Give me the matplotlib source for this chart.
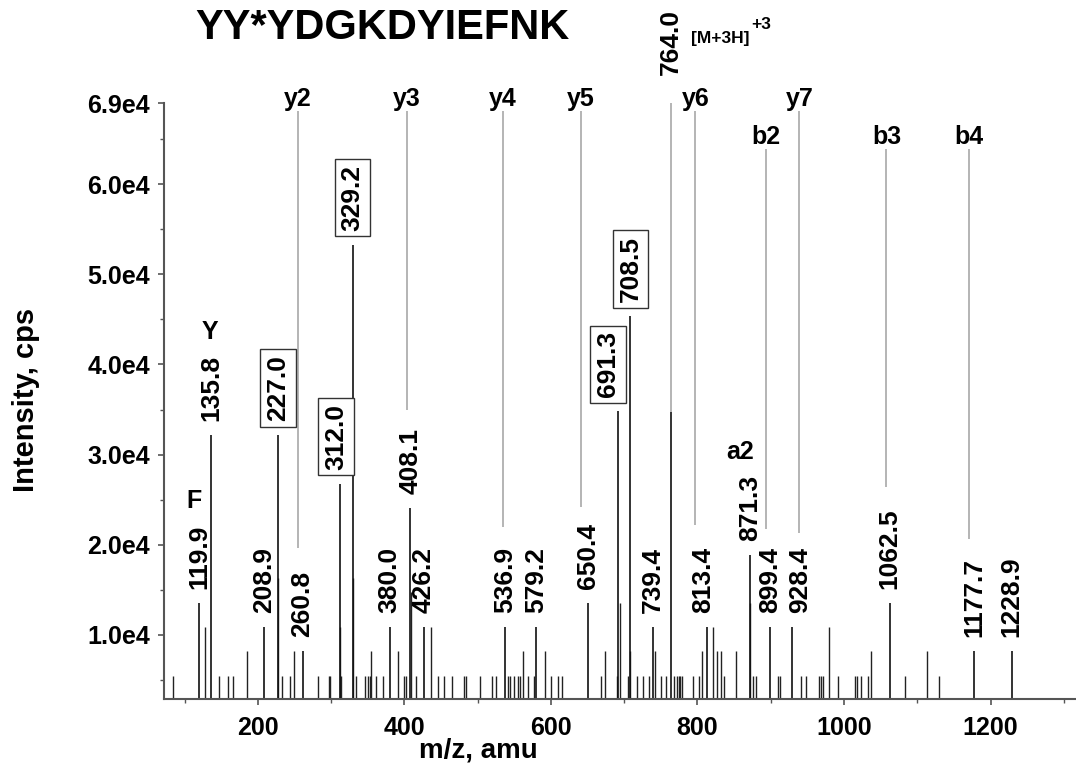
import matplotlib
matplotlib.use('Agg')
import matplotlib.pyplot as plt
from matplotlib.ticker import FixedLocator, MultipleLocator

plt.rcParams['font.family'] = ['Liberation Sans', 'DejaVu Sans']
plt.rcParams['font.weight'] = 'bold'

# unlabeled peaks (m/z, intensity)
peak_mz = [83.5, 128, 146.3, 159, 166.3, 185.4, 227.5, 232.8, 243.7, 249.6,
           282.3, 296.5, 298.7, 311.3, 313.3, 330.0, 333.8, 345.6, 350.6, 352.9,
           354.7, 361, 371, 390.7, 399.7, 401.6, 408.6, 415.7, 435.7, 445.7,
           453.9, 464.4, 481.2, 484, 503, 519, 525, 542, 544.6, 550,
           555, 557.7, 562.2, 569, 576.8, 591.3, 599.5, 609, 615, 668.6,
           673.3, 689.5, 694.2, 705.6, 708.0, 717, 725, 733.8, 741.5, 749.7,
           756.5, 768, 772.4, 774.3, 776, 778.4, 794.3, 802.5, 806.2, 820.8,
           826.2, 831.7, 836.7, 852.2, 871.0, 876.3, 880, 910.4, 913.2, 941.5,
           948.8, 966, 969.2, 971.5, 980, 992, 1015, 1018.2, 1023.2, 1033.2,
           1037, 1083.3, 1112.9, 1130]
peak_int = [5.5e3, 1.09e4, 5.5e3, 5.5e3, 5.5e3, 8.2e3, 1.63e4, 5.5e3, 5.5e3, 8.2e3,
            5.5e3, 5.5e3, 5.5e3, 1.09e4, 5.5e3, 1.63e4, 5.5e3, 5.5e3, 5.5e3, 5.5e3,
            8.2e3, 5.5e3, 5.5e3, 8.2e3, 5.5e3, 5.5e3, 1.48e4, 5.5e3, 1.09e4, 5.5e3,
            5.5e3, 5.5e3, 5.5e3, 5.5e3, 5.5e3, 5.5e3, 5.5e3, 5.5e3, 5.5e3, 5.5e3,
            5.5e3, 5.5e3, 8.2e3, 5.5e3, 5.5e3, 8.2e3, 5.5e3, 5.5e3, 5.5e3, 5.5e3,
            8.2e3, 5.5e3, 1.36e4, 5.5e3, 8.2e3, 5.5e3, 5.5e3, 5.5e3, 8.2e3, 5.5e3,
            5.5e3, 5.5e3, 5.5e3, 5.5e3, 5.5e3, 5.5e3, 5.5e3, 5.5e3, 8.2e3, 1.09e4,
            8.2e3, 8.2e3, 5.5e3, 8.2e3, 1.36e4, 5.5e3, 5.5e3, 5.5e3, 5.5e3, 5.5e3,
            5.5e3, 5.5e3, 5.5e3, 5.5e3, 1.09e4, 5.5e3, 5.5e3, 5.5e3, 5.5e3, 5.5e3,
            8.2e3, 5.5e3, 8.2e3, 5.5e3]

# labeled peaks
label_mz = [119.9, 135.8, 208.9, 227.0, 260.8, 312.0, 329.2, 380.0, 408.1, 426.2,
            536.9, 579.2, 650.4, 691.3, 708.5, 739.4, 813.4, 871.3, 899.4, 928.4,
            1062.5, 1177.7, 1228.9]
label_int = [1.36e4, 3.22e4, 1.09e4, 3.22e4, 8.2e3, 2.68e4, 5.33e4, 1.09e4, 2.41e4, 1.09e4,
             1.09e4, 1.09e4, 1.36e4, 3.48e4, 4.54e4, 1.09e4, 1.09e4, 1.89e4, 1.09e4, 1.09e4,
             1.36e4, 8.2e3, 8.2e3]
label_txt = ['119.9', '135.8', '208.9', '227.0', '260.8', '312.0', '329.2', '380.0', '408.1', '426.2',
             '536.9', '579.2', '650.4', '691.3', '708.5', '739.4', '813.4', '871.3', '899.4', '928.4',
             '1062.5', '1177.7', '1228.9']
boxed = ['227.0', '312.0', '329.2', '691.3', '708.5']
shift_pt = {'312.0': -3, '691.3': -7, '813.4': -3, '928.4': 6}

# immonium / a ions written above their peak label
ion_on_peak = {'119.9': 'F', '135.8': 'Y', '871.3': 'a2'}
ion_dx = {'F': -4, 'Y': -1, 'a2': -7}

# fragment ion markers
frag_names = ['y2', 'y3', 'y4', 'y5', 'y6', 'b2', 'y7', 'b3', 'b4']
frag_mz = [254, 403, 534, 641, 797, 894, 939, 1058, 1171]
frag_low = [1.97e4, 3.5e4, 2.2e4, 2.42e4, 2.22e4, 2.17e4, 2.13e4, 2.64e4, 2.06e4]
frag_row = [0, 0, 0, 0, 0, 1, 0, 1, 1]
row_top = [6.81e4, 6.39e4]

prec_mz = 764.0
prec_int = 3.47e4

ymin, ymax = 2.9e3, 6.9e4

fig = plt.figure(figsize=(10.76, 7.7), dpi=100)
ax = fig.add_axes([0.1524, 0.0922, 0.8476, 0.774])

ax.vlines(peak_mz, 0, peak_int, color='#222222', lw=1.0)
ax.vlines(label_mz, 0, label_int, color='#111111', lw=1.2)
ax.vlines([prec_mz], 0, [prec_int], color='#111111', lw=1.2)

gray = '#a8a8a8'
for name, mz, low, row in zip(frag_names, frag_mz, frag_low, frag_row):
    ax.vlines(mz, low, row_top[row], color=gray, lw=1.2, clip_on=False)
    ax.annotate(name, (mz, row_top[row]), xytext=(0, 0), textcoords='offset points',
                ha='center', va='bottom', fontsize=18, annotation_clip=False)

ax.vlines(prec_mz, prec_int, ymax, color=gray, lw=1.2)

for mz, inten, txt in zip(label_mz, label_int, label_txt):
    kw = {}
    if txt in boxed:
        kw['bbox'] = dict(boxstyle='square,pad=0.22', fc='white', ec='#333333', lw=1.0)
    ann = ax.annotate(txt, (mz, inten), xytext=(shift_pt.get(txt, 0), 10),
                      textcoords='offset points', rotation=90, ha='center', va='bottom',
                      fontsize=19, annotation_clip=False, **kw)
    if txt in ion_on_peak:
        ion = ion_on_peak[txt]
        ax.annotate(ion, (0.5, 1), xycoords=ann, xytext=(ion_dx[ion], 8),
                    textcoords='offset points', ha='center', va='bottom', fontsize=18)

prec = ax.annotate('%.1f' % prec_mz, (prec_mz, ymax), xytext=(0, 20), textcoords='offset points',
                   rotation=90, ha='center', va='bottom', fontsize=19, annotation_clip=False)
ax.annotate('[M+3H]', (prec_mz, ymax), xytext=(14, 43), textcoords='offset points',
            ha='left', va='baseline', fontsize=12.5, annotation_clip=False)
ax.annotate('+3', (prec_mz, ymax), xytext=(58, 53), textcoords='offset points',
            ha='left', va='baseline', fontsize=12.5, annotation_clip=False)

ax.set_xlim(71.7, 1316.7)
ax.set_ylim(ymin, ymax)

for s in ['top', 'right']:
    ax.spines[s].set_visible(False)
for s in ['left', 'bottom']:
    ax.spines[s].set_color('#555555')
    ax.spines[s].set_linewidth(1.5)

ax.xaxis.set_major_locator(FixedLocator([200, 400, 600, 800, 1000, 1200]))
ax.xaxis.set_minor_locator(MultipleLocator(100))
yt = [1e4, 2e4, 3e4, 4e4, 5e4, 6e4, 6.9e4]
ax.yaxis.set_major_locator(FixedLocator(yt))
ax.set_yticklabels(['1.0e4', '2.0e4', '3.0e4', '4.0e4', '5.0e4', '6.0e4', '6.9e4'])
ax.yaxis.set_minor_locator(FixedLocator([5e3, 1.5e4, 2.5e4, 3.5e4, 4.5e4, 5.5e4, 6.5e4]))
ax.tick_params(axis='both', which='major', labelsize=18, color='#555555', width=1.2, length=4, pad=6)
ax.tick_params(axis='both', which='minor', color='#555555', width=1.0, length=3)
ax.tick_params(axis='x', which='major', pad=8)

fig.text(382 / 1076, 1 - 28 / 770, 'YY*YDGKDYIEFNK', ha='center', va='center', fontsize=30)
fig.text(26 / 1076, 1 - 400 / 770, 'Intensity, cps', rotation=90, ha='center', va='center', fontsize=21)
fig.text(478 / 1076, 1 - 750 / 770, 'm/z, amu', ha='center', va='center', fontsize=20)

fig.savefig('out.png', dpi=100)
